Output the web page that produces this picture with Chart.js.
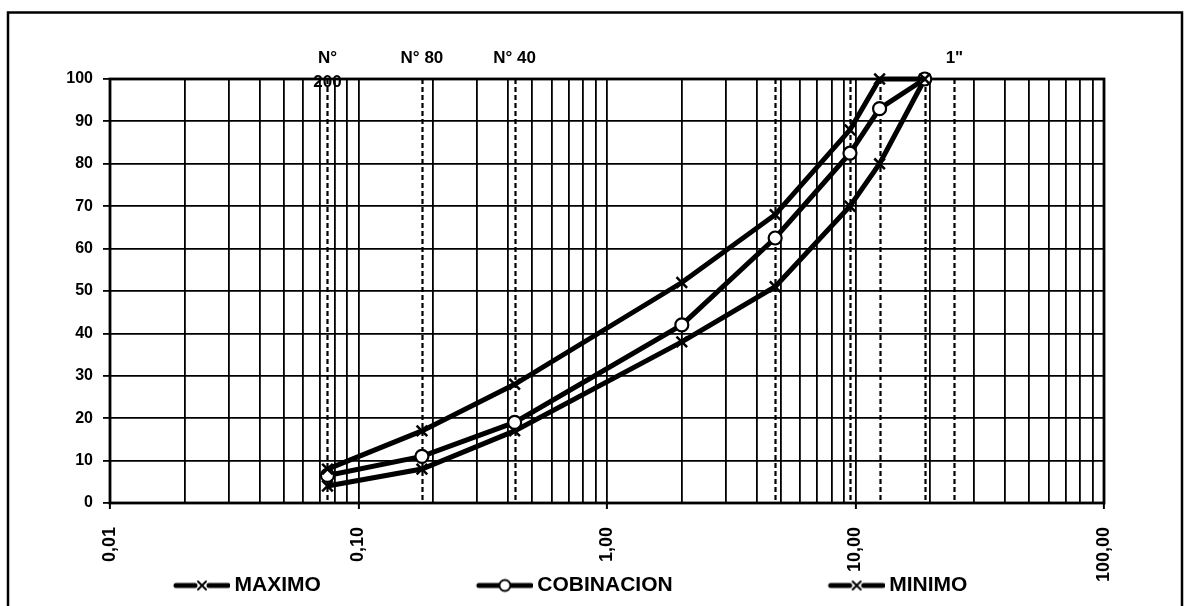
<!DOCTYPE html>
<html lang="es">
<head>
<meta charset="UTF-8">
<title>Curva granulométrica</title>
<script src="https://cdn.jsdelivr.net/npm/chart.js"></script>
<style>
  html, body { margin: 0; padding: 0; background: #fff; }
  #marco { position: relative; width: 1189px; height: 606px; }
</style>
</head>
<body>
<div id="marco"><canvas id="grafica"></canvas></div>
<script>
// Abertura de tamices (mm) y % que pasa
const tamices = [0.075, 0.18, 0.425, 2.0, 4.75, 9.5, 12.5, 19.0];
const maximo = [8, 17, 28, 52, 68, 88, 100, 100];
const combinacion = [6.5, 11, 19, 42, 62.5, 82.5, 93, 100];
const minimo = [4, 8, 17, 38, 51, 70, 80, 100];

// Líneas punteadas de referencia y sus rótulos
const lineasTamiz = [0.075, 0.18, 0.425, 4.75, 9.5, 12.5, 19.0, 25.0];
const rotulosTamiz = [['N°', '200'], ['N° 80'], ['N° 40'], [], [], [], [], ['1"']];

// Eje X logarítmico
const decadas = [0.01, 0.1, 1, 10, 100];
const etiquetasX = ['0,01', '0,10', '1,00', '10,00', '100,00'];

const FUENTE = '"Liberation Sans", Arial, sans-serif';

function esDecada(v) {
  return decadas.findIndex(d => Math.abs(d - v) / d < 1e-6);
}

function ticksLog() {
  const t = [];
  for (let i = 0; i < decadas.length - 1; i++) {
    for (let m = 1; m <= 9; m++) t.push({ value: m * decadas[i] });
  }
  t.push({ value: decadas[decadas.length - 1] });
  return t;
}

function serie(valores) {
  return tamices.map((x, i) => ({ x: x, y: valores[i] }));
}

// Marca de la leyenda: tramo de línea gruesa con el símbolo al centro
function marcaLeyenda(tipo) {
  const c = document.createElement('canvas');
  c.width = 208; c.height = 16;
  const g = c.getContext('2d');
  const x0 = c.width - 56, xc = c.width - 28, yc = 8;
  g.strokeStyle = '#000';
  g.lineCap = 'round';
  g.lineWidth = 5;
  g.beginPath();
  if (tipo === 'x') {
    g.moveTo(x0 + 2, yc); g.lineTo(xc - 7, yc);
    g.moveTo(xc + 7, yc); g.lineTo(c.width - 2, yc);
  } else {
    g.moveTo(x0 + 2, yc); g.lineTo(c.width - 2, yc);
  }
  g.stroke();
  g.lineWidth = 2;
  if (tipo === 'x') {
    g.beginPath();
    g.moveTo(xc - 4, yc - 4); g.lineTo(xc + 4, yc + 4);
    g.moveTo(xc + 4, yc - 4); g.lineTo(xc - 4, yc + 4);
    g.stroke();
  } else {
    g.fillStyle = '#fff';
    g.beginPath(); g.arc(xc, yc, 5.5, 0, Math.PI * 2); g.fill(); g.stroke();
  }
  return c;
}

const decorado = {
  id: 'decorado',
  afterLayout(chart) {
    // las etiquetas giradas del eje X bajan hasta la altura de la leyenda
    chart.scales.x.bottom = chart.height;
  },
  beforeDraw(chart) {
    const ctx = chart.ctx;
    ctx.save();
    ctx.fillStyle = '#fff';
    ctx.fillRect(0, 0, chart.width, chart.height);
    ctx.strokeStyle = '#000';
    ctx.lineWidth = 2.5;
    ctx.strokeRect(8, 12.5, 1174, 620);
    ctx.restore();
  },
  beforeDatasetsDraw(chart) {
    const ctx = chart.ctx, a = chart.chartArea, sx = chart.scales.x;
    ctx.save();
    ctx.strokeStyle = '#000';
    ctx.lineWidth = 2.2;
    ctx.setLineDash([5, 3]);
    lineasTamiz.forEach(v => {
      const px = Math.round(sx.getPixelForValue(v)) + 0.5;
      ctx.beginPath(); ctx.moveTo(px, a.top); ctx.lineTo(px, a.bottom); ctx.stroke();
    });
    ctx.setLineDash([]);
    ctx.lineWidth = 2.8;
    ctx.strokeRect(a.left, a.top, a.right - a.left, a.bottom - a.top);
    ctx.restore();
  },
  afterDraw(chart) {
    const ctx = chart.ctx, a = chart.chartArea, sx = chart.scales.x;
    ctx.save();
    ctx.fillStyle = '#000';
    ctx.font = 'bold 17px ' + FUENTE;
    ctx.textAlign = 'center';
    ctx.textBaseline = 'middle';
    lineasTamiz.forEach((v, i) => {
      const px = sx.getPixelForValue(v);
      rotulosTamiz[i].forEach((t, j) => ctx.fillText(t, px, a.top - 21 + j * 24));
    });
    ctx.restore();
  }
};

const estiloX = { pointStyle: 'crossRot', pointRadius: 7.5, pointBorderWidth: 2.5 };
const estiloO = { pointStyle: 'circle', pointRadius: 6.5, pointBorderWidth: 2.2, pointBackgroundColor: '#fff' };

new Chart(document.getElementById('grafica'), {
  type: 'line',
  data: {
    datasets: [
      Object.assign({ label: 'MAXIMO', data: serie(maximo), marca: 'x' }, estiloX),
      Object.assign({ label: 'COBINACION', data: serie(combinacion), marca: 'o' }, estiloO),
      Object.assign({ label: 'MINIMO', data: serie(minimo), marca: 'x' }, estiloX)
    ].map(d => Object.assign(d, {
      borderColor: '#000', pointBorderColor: '#000', borderWidth: 5,
      tension: 0, fill: false, clip: false
    }))
  },
  options: {
    responsive: true,
    maintainAspectRatio: false,
    devicePixelRatio: 1,
    animation: false,
    events: [],
    layout: { padding: { left: 18, right: 85, top: 79, bottom: 0 } },
    plugins: {
      tooltip: { enabled: false },
      legend: {
        position: 'bottom',
        align: 'start',
        labels: {
          usePointStyle: true,
          pointStyleWidth: 196,
          padding: 10,
          color: '#000',
          font: { family: FUENTE, size: 21, weight: 'bold' },
          generateLabels(chart) {
            return chart.data.datasets.map((d, i) => ({
              text: d.label,
              pointStyle: marcaLeyenda(d.marca),
              fillStyle: '#000', strokeStyle: '#000', lineWidth: 0,
              fontColor: '#000', datasetIndex: i
            }));
          }
        }
      }
    },
    scales: {
      x: {
        type: 'logarithmic',
        min: 0.01,
        max: 100,
        afterBuildTicks(scale) { scale.ticks = ticksLog(); },
        afterFit(scale) {
          scale.height = 62;
          scale.paddingLeft = 0;
          scale.paddingRight = 0;
        },
        border: { display: false },
        grid: {
          color: '#000',
          lineWidth: 1.8,
          tickLength: 6,
          tickWidth: 2,
          tickColor: c => (c.tick && esDecada(c.tick.value) >= 0) ? '#000' : 'rgba(0,0,0,0)'
        },
        ticks: {
          autoSkip: false,
          minRotation: 90,
          maxRotation: 90,
          padding: 18,
          color: '#000',
          font: { family: FUENTE, size: 18, weight: 'bold' },
          callback: v => {
            const i = esDecada(v);
            return i >= 0 ? etiquetasX[i] : '';
          }
        }
      },
      y: {
        min: 0,
        max: 100,
        afterFit(scale) {
          scale.width = 92;
          scale.paddingTop = 0;
          scale.paddingBottom = 0;
        },
        border: { display: false },
        grid: { color: '#000', lineWidth: 1.8, tickLength: 7, tickWidth: 1.8 },
        ticks: {
          stepSize: 10,
          padding: 10,
          color: '#000',
          font: { family: FUENTE, size: 16, weight: 'bold' }
        }
      }
    }
  },
  plugins: [decorado]
});
</script>
</body>
</html>
